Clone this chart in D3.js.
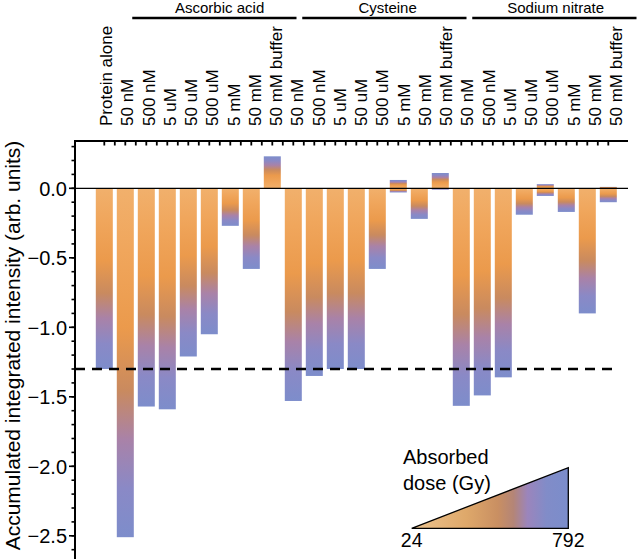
<!DOCTYPE html>
<html><head><meta charset="utf-8">
<script src="https://cdn.jsdelivr.net/npm/d3@7"></script>
<style>
body{margin:0;background:#fff}
svg{display:block}
text{font-family:"Liberation Sans",Arial,Helvetica,sans-serif;fill:#000}
</style>
</head><body>
<svg id="chart" width="640" height="559"></svg>
<script>
// ---------------- data ----------------
const groups = ["Ascorbic acid", "Cysteine", "Sodium nitrate"];
const concentrations = ["50 nM", "500 nM", "5 uM", "50 uM", "500 uM", "5 mM", "50 mM", "50 mM buffer"];
const categories = ["Protein alone"].concat(concentrations, concentrations, concentrations);
// accumulated integrated intensity at the final dose
const finalValues = [
  -1.30,
  -2.51, -1.57, -1.59, -1.21, -1.05, -0.27, -0.58, 0.23,
  -1.53, -1.35, -1.30, -1.30, -0.58, 0.06, -0.22, 0.11,
  -1.565, -1.49, -1.36, -0.19, -0.055, -0.17, -0.90, -0.10
];
// excursion on the other side of zero during irradiation
const overshootValues = [
  0,
  0, 0, 0, 0, 0, 0, 0, 0,
  0, 0, 0, 0, 0, -0.03, 0, -0.01,
  0, 0, 0, 0, 0.03, 0, 0, 0.01
];
const referenceLevel = -1.30;
const yTickValues = [0, -0.5, -1.0, -1.5, -2.0, -2.5];
const doseRange = [24, 792];
const legendTitle = ["Absorbed", "dose (Gy)"];
const yTitle = "Accumulated integrated intensity (arb. units)";

// ---------------- setup ----------------
const svg = d3.select("#chart");
const defs = svg.append("defs");

const x = d3.scaleBand().domain(d3.range(categories.length))
  .range([93.8, 618.8]).paddingInner(0.19).paddingOuter(0.095);
const labelX = d3.scaleLinear().domain([0, categories.length - 1]).range([106, 616]);
const y = d3.scaleLinear().domain([-2.5, 0]).range([535.8, 188.3]);

const frameLeft = 75, frameRight = 628, frameTop = 141;

// colour ramp along a bar (0 = zero level / first dose, 1 = final dose)
const barRamp = [
  [0.00, "#f1b06c"],
  [0.18, "#f0a65c"],
  [0.40, "#eb9a4c"],
  [0.58, "#c98a5f"],
  [0.72, "#a982a8"],
  [0.86, "#8a89c6"],
  [1.00, "#7d8dcb"]
];

const bars = categories.map((c, i) => {
  const f = finalValues[i], o = overshootValues[i];
  const hi = Math.max(0, f, o), lo = Math.min(0, f, o);
  return {i, c, hi, lo};
});

bars.forEach(b => {
  const g = defs.append("linearGradient").attr("id", "bg" + b.i)
    .attr("x1", 0).attr("y1", 0).attr("x2", 0).attr("y2", 1);
  const span = b.hi - b.lo;
  const z = b.hi / span; // offset of the zero level from the top
  const stops = [];
  if (b.hi > 0) barRamp.forEach(([f, col]) => stops.push([z * (1 - f), col]));
  if (b.lo < 0) barRamp.forEach(([f, col]) => stops.push([z + (1 - z) * f, col]));
  stops.sort((a, b2) => a[0] - b2[0]);
  stops.forEach(([off, col]) => g.append("stop").attr("offset", off).attr("stop-color", col));
});

// bars
svg.append("g").selectAll("rect").data(bars).join("rect")
  .attr("x", d => x(d.i))
  .attr("width", x.bandwidth())
  .attr("y", d => y(d.hi))
  .attr("height", d => y(d.lo) - y(d.hi))
  .attr("fill", d => `url(#bg${d.i})`);

// zero line
svg.append("line").attr("x1", frameLeft).attr("x2", frameRight)
  .attr("y1", y(0)).attr("y2", y(0)).attr("stroke", "#000").attr("stroke-width", 1.3);

// reference (protein alone) dashed line
svg.append("line").attr("x1", frameLeft).attr("x2", 615)
  .attr("y1", y(referenceLevel)).attr("y2", y(referenceLevel))
  .attr("stroke", "#000").attr("stroke-width", 2.6).attr("stroke-dasharray", "10,7");

// left axis
const yAxisG = svg.append("g");
yAxisG.append("line").attr("x1", frameLeft).attr("x2", frameLeft)
  .attr("y1", frameTop - 1).attr("y2", 559).attr("stroke", "#000").attr("stroke-width", 2);
const minorTicks = d3.range(3, -27, -1).map(v => v / 10);
yAxisG.selectAll(".mt").data(minorTicks).join("line")
  .attr("x1", frameLeft).attr("x2", frameLeft - 3.5)
  .attr("y1", d => y(d)).attr("y2", d => y(d))
  .attr("stroke", "#000").attr("stroke-width", 1.6);
yAxisG.selectAll(".Mt").data(yTickValues).join("line")
  .attr("x1", frameLeft).attr("x2", frameLeft - 6)
  .attr("y1", d => y(d)).attr("y2", d => y(d))
  .attr("stroke", "#000").attr("stroke-width", 1.6);
yAxisG.selectAll("text").data(yTickValues).join("text")
  .attr("x", frameLeft - 8).attr("y", d => y(d)).attr("dy", "0.36em")
  .attr("text-anchor", "end").attr("font-size", 20)
  .text(d => d3.format(".1f")(d).replace("-", "\u2212"));

// y title
svg.append("text").attr("transform", `translate(19.5,${(551 + 140) / 2}) rotate(-90)`)
  .attr("text-anchor", "middle").attr("font-size", 21).text(yTitle);

// top frame with category ticks
svg.append("line").attr("x1", frameLeft - 1).attr("x2", frameRight)
  .attr("y1", frameTop).attr("y2", frameTop).attr("stroke", "#000").attr("stroke-width", 2);
const halfSteps = d3.range(0, (categories.length - 1) * 2 + 1).map(k => x(0) + x.bandwidth() / 2 + k * x.step() / 2);
svg.append("g").selectAll("line").data(halfSteps).join("line")
  .attr("x1", d => d).attr("x2", d => d)
  .attr("y1", frameTop).attr("y2", frameTop + 4.5)
  .attr("stroke", "#000").attr("stroke-width", 1.8);

// category labels
svg.append("g").selectAll("text").data(categories).join("text")
  .attr("transform", (d, i) => `translate(${labelX(i)},126) rotate(-90)`)
  .attr("dy", "0.36em").attr("font-size", 17).text(d => d);

// group brackets
const groupRanges = [[1, 8], [9, 16], [17, 24]];
groupRanges.forEach(([a, b], gi) => {
  const x1 = labelX(a) + 5, x2 = labelX(b) + 20.5;
  svg.append("line").attr("x1", x1).attr("x2", x2).attr("y1", 18).attr("y2", 18)
    .attr("stroke", "#000").attr("stroke-width", 2.3);
  svg.append("text").attr("x", (labelX(a) + labelX(b)) / 2 + 18 - gi * 2).attr("y", 13)
    .attr("text-anchor", "middle").attr("font-size", 15).text(groups[gi]);
});

// legend
const lg = defs.append("linearGradient").attr("id", "legGrad")
  .attr("x1", 0).attr("y1", 0).attr("x2", 1).attr("y2", 0);
[[0, "#ecc48f"], [0.35, "#dea86a"], [0.55, "#c98f62"], [0.65, "#b48577"], [0.74, "#9b85bc"], [0.86, "#818cc8"], [1, "#7b8dcb"]]
  .forEach(([o, c]) => lg.append("stop").attr("offset", o).attr("stop-color", c));
const lx = d3.scaleLinear().domain(doseRange).range([411.7, 568.3]);
const lyBase = 528.3, lyTop = 467.7;
svg.append("path")
  .attr("d", `M${lx(doseRange[0])},${lyBase}L${lx(doseRange[1])},${lyBase}L${lx(doseRange[1])},${lyTop}Z`)
  .attr("fill", "url(#legGrad)").attr("stroke", "#000").attr("stroke-width", 1.3);
svg.append("g").selectAll("text").data(doseRange).join("text")
  .attr("x", d => lx(d)).attr("y", 546.5).attr("text-anchor", "middle")
  .attr("font-size", 19.5).text(d => d);
svg.append("g").selectAll("text").data(legendTitle).join("text")
  .attr("x", 403).attr("y", (d, i) => 464 + i * 26).attr("font-size", 20).text(d => d);
</script>
</body></html>
